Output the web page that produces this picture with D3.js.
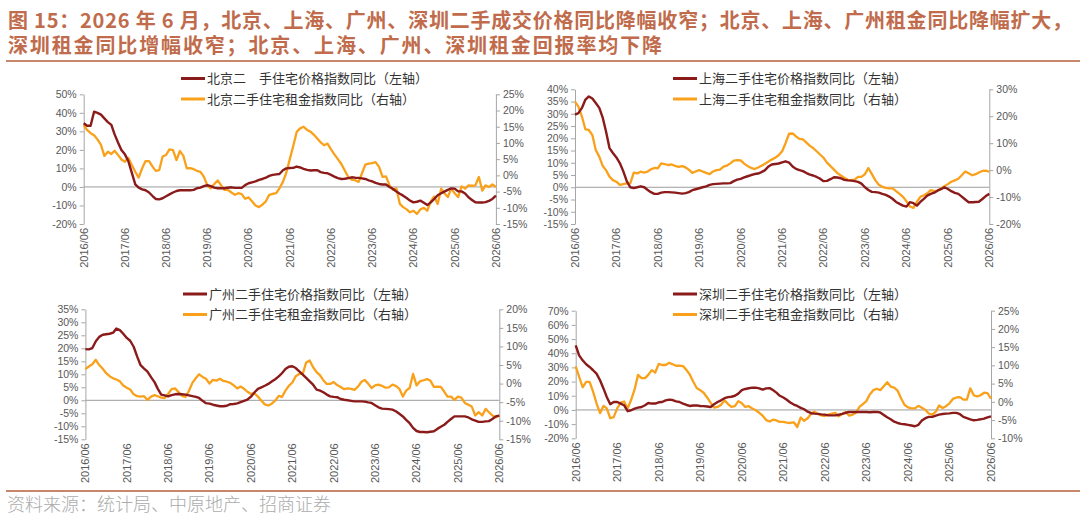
<!DOCTYPE html>
<html>
<head>
<meta charset="utf-8">
<script src="https://cdn.jsdelivr.net/npm/d3@7"></script>
<style>
  body { margin: 0; background: #fff; }
  svg { display: block; }
  .tick text { font-family: "Liberation Sans", Arial, sans-serif; font-size: 10.5px; fill: #595959; }
  .legend text { font-family: "Noto Sans CJK SC", sans-serif; font-size: 13px; fill: #333; }
</style>
</head>
<body>
<svg id="chart" width="1080" height="521"></svg>
<script>
// month index 0 = 2016/06, 120 = 2026/06
const xTickLabels = ["2016/06","2017/06","2018/06","2019/06","2020/06","2021/06","2022/06","2023/06","2024/06","2025/06","2026/06"];

// 北京
const bjPrice = [34.4,33,33,40.6,40,39,37,35,33.5,28.5,24,20,17.6,14,7.7,1.4,-0.4,-1.3,-1.8,-3,-4.9,-6.5,-6.7,-6.1,-5,-4,-3,-2.2,-1.8,-1.8,-1.8,-1.8,-1.6,-0.7,-0.4,0.4,0.9,0.4,-0.4,-0.7,-0.7,-0.7,-0.4,-0.2,-0.5,
  -0.5,-0.5,1,2,2.5,3,3.8,4.3,5,6,6.5,6.8,7,9,10,10.2,10.3,11,10.5,9.8,9.2,8.9,9,9,8,7.6,7.4,6.5,5.6,4.8,4.3,4.4,4.8,5.2,5,4.9,4.6,4.3,3.6,3,2.2,1.6,1.3,1.3,0,-1,-2.5,-3.7,-4.7,-6,-7.4,-8.3,-8,-7.4,-8.5,-9.8,-8.3,-6.5,-4.5,-3.4,-2.5,-1.6,-0.8,-0.9,-2.4,-2.4,-3.5,-5.6,-7,-8.3,-8.4,-8.4,-8.2,-7.5,-6.5,-4.7];
const bjRent = [15.5,14,13,12.4,11.1,9.4,6,7.3,6.6,7.6,6.3,4.9,4.2,5.4,3.2,1.1,-0.7,2.2,4.4,4.4,2.7,1.4,1.6,5.8,6.3,8,7.8,4.7,7.5,6,2.2,2.2,1.9,1.4,1.1,-0.4,-3,-4,-2.7,-1.6,-3,-4.5,-4.5,-5.3,-6,
  -5.5,-5.8,-7.2,-6.8,-8,-9.3,-9.8,-9,-8,-6,-5.7,-5.5,-4,-2,0.8,5,9,13.4,14.5,15,14,13.5,12.5,11.3,10.2,9.3,9.8,8,6.5,5,3.5,1.5,-0.5,-1.3,-1.5,-2,0.5,3.3,3.6,3.8,4.1,2.6,-0.5,-0.3,-3,-4.5,-4,-8.8,-9.8,-10.5,-11.4,-10.9,-11.9,-10.5,-10,-10.9,-8,-6.5,-8.8,-4.1,-5.5,-6.7,-4.1,-5.5,-6.7,-3.4,-4.1,-3.1,-3.2,-3.1,-0.5,-4.7,-3.1,-3.6,-2.8,-3.6];

// 上海
const shPrice = [29.7,30.3,32.4,35.8,37.1,36.2,34.4,32.4,28.3,22.9,16,14,12.2,9.9,6.5,2.4,0,-0.3,0,0.4,0,-1,-2,-2.7,-2.7,
  -2.2,-2,-2,-2.1,-2.2,-2.4,-2.6,-2.4,-2,-1.2,-0.8,-0.4,0,0.4,1,1.3,1.4,1.5,1.6,1.6,1.7,2.5,3.1,3.4,4,4.5,5,5.4,5.6,6.2,7,8.5,9.3,9.5,9.7,10.2,10.6,10.1,8.5,7.5,7,6.6,5.8,5.2,4.8,4.2,3.5,2.5,2.6,3.3,4.1,4,3.7,3,2.8,2.7,2.5,2.2,1.5,0,-1.1,-1.9,-2,-2.2,-2.7,-3.1,-3.8,-4.8,-6,-6.8,-7.5,-7.9,-6.1,-6.5,-7.5,-6,-4.7,-3.4,-2.7,-2.2,-1.4,-0.8,0,-0.7,-1.6,-2.3,-2.7,-3.8,-5,-6.1,-6.1,-6,-5.9,-4.8,-3.6,-2.7];
const shRent = [25.4,23.6,19.9,15.1,14.9,13,7.5,5,1.5,0,-2.4,-3.7,-4.3,-5.5,-5.2,-4.9,-4.9,-0.9,-1.2,-0.6,-0.9,-0.6,0.3,0.8,0.7,
  2.5,2.2,1.9,2.1,1.6,1.2,1.5,1,0.2,-1,-0.5,0,-0.5,-1,-1.5,-0.5,0,0.2,1.3,1.7,2.5,3.5,3.7,3.6,2.4,1.5,0.8,0.4,1,1.6,2.4,3.2,3.9,4.6,5.5,7,10,13.5,13.6,12.5,11.6,11.4,10.2,9,8.2,7,5.8,4.6,2.8,1.5,0.2,-1.1,-2,-2.8,-3.6,-3.7,-3.5,-2.5,-2.5,-1.5,0.8,-1.5,-3.8,-5.4,-6.2,-6.6,-6.8,-6.8,-7.8,-8.8,-9.9,-11.6,-13.5,-14,-11.8,-9.9,-9.4,-8.6,-7.4,-7.8,-7.6,-6.8,-6,-5.2,-4.3,-3.8,-3.2,-1.9,-0.5,-1.2,-1.9,-1.5,-0.9,-0.3,-0.2,-0.6];

// 广州
const gzPrice = [19.7,19.6,20.1,22.7,24.4,25.2,25.4,25.6,26,27.6,27,25.6,24,22.9,20.6,16.8,13.5,12.2,11,8.9,7,4.5,2.2,1.9,1.5,2,2.3,2.4,2.3,2.2,1.9,1.6,1.3,0.9,-0.2,-1.1,-1.3,-1.7,-2,-2.3,-2.3,-2.1,-1.5,-1.4,-1.2,-0.7,-0.2,0.3,1.4,3,4.4,5,5.6,6.3,7.2,8.1,9.2,10.4,12,12.9,13.1,12.4,11.1,9.9,8.6,7.3,6,4.1,3.7,3.1,2.2,1.5,1.3,1.2,0.5,0.2,0,-0.2,-0.4,-0.4,-0.4,-0.5,-0.8,-1,-1.9,-2.7,-3.2,-3.3,-3.4,-3.6,-4.2,-5.2,-6.2,-7.5,-8.8,-10.6,-11.8,-12.2,-12.2,-12.3,-12.1,-11.9,-11,-10.2,-9.4,-8.3,-7.2,-6.2,-6.2,-6.2,-6.2,-6.6,-7.3,-7.8,-8.3,-8.3,-8.1,-8,-7.2,-6.2,-5.9];
const gzRent = [3.9,4.6,5.2,6.4,5,4,2.8,2,1.4,1.1,0.6,-0.5,-1.1,-1.6,-2.9,-3.4,-3.5,-3.4,-4.4,-3.5,-3.1,-3.4,-3.8,-3.9,-2.8,-1.5,-1.3,-2.3,-3.3,-3.6,-2,0.2,1.5,2.5,1.8,1.3,0,1,0.8,1.3,0.7,0.5,0.2,-0.5,-1.3,-0.8,-1.4,-2.2,-2.8,-2.6,-3.5,-4.6,-5.6,-5.9,-5.4,-4.6,-3.3,-3.6,-1.9,-0.6,0.3,2,2.6,2.6,5.7,6.2,4.4,3.1,2.2,0.9,-0.1,-0.1,0.4,-0.4,-0.9,-1.5,-1.3,-1.4,-1.7,-0.8,0.5,1,0,-1.2,-0.5,-0.3,-0.6,-1.1,-1,-0.3,-0.6,-1.4,-3.5,-1.9,-1.2,2.6,-0.5,0.6,0.9,1.2,0.8,-0.9,-0.8,-0.9,-2.2,-3.5,-3.5,-4.4,-3.5,-3.8,-5.2,-5.7,-6.2,-8.6,-7.7,-8.6,-6.8,-7.7,-8.6,-9.1,-8.6];

// 深圳
const szPrice = [45.6,38.5,35,32.2,30.3,28,25.6,20.9,15,9.2,4,5.6,5.6,4.5,3.3,-0.9,-0.2,0.9,1.6,2.1,3.3,4.9,4.5,4.5,5.4,5.6,6.8,7.3,
  7,6,5.6,4.5,3.5,2.8,3.1,3.2,2.8,2.7,2.4,2.1,4,5.6,6.8,8.3,9,9.3,10,11.5,13.9,14.8,15.3,15.7,15.7,15.2,14.3,15.2,15.4,14,12.2,10,8.8,7.2,5.3,3.8,2.8,1.5,0.5,-1.2,-2.3,-2.6,-2.8,-3.1,-3.3,-3.8,-3.8,-3.8,-3.4,-2.8,-2,-1.4,-1.4,-1.4,-1.4,-1.4,-1.5,-1.6,-1.4,-1.4,-1.8,-3.5,-5.2,-6.6,-8.3,-9.2,-9.8,-10.1,-10.5,-11,-11.5,-10.5,-7.5,-5.8,-4.9,-4.9,-4,-3.3,-2.9,-2.6,-2.4,-2.1,-2.1,-3,-4.9,-5.7,-6.6,-7.3,-7,-6.6,-6.1,-5.2,-4.5];
const szRent = [9.7,6.9,4,5.5,5.5,2.8,-0.4,-3.1,-1.1,-1.8,-4.5,-4.2,-1.8,-0.2,0.1,-1.8,0.5,3.4,7.4,6.5,6.5,7.4,8.7,8,10.4,10.1,10.1,10.7,
  10.3,9.9,9.9,9.8,8.7,7.5,5.5,3.8,3.2,2.5,1.2,-0.3,-1.6,-1.4,-0.8,0.4,-0.6,-1.4,-1.2,0.2,-0.4,-1.4,-1.2,-1.8,-2.3,-3,-3.8,-5,-5.4,-4.9,-5.1,-5.5,-5.5,-5.7,-5.8,-5.6,-6.9,-4.3,-5.2,-4.5,-3.2,-2.7,-3.3,-3.7,-3.9,-3.5,-3.2,-3,-4,-3.3,-2.8,-3.8,-3.5,-3,-1.4,-0.6,0.2,2,3.2,3.6,3.2,4.3,5.4,4.2,3.9,3.1,1,-0.8,-1.5,-1.8,-1.8,-1.1,-1.6,-2.2,-3.2,-3.5,-2.7,-1,-1.7,-1.2,-0.4,0.8,1.2,1.3,0.6,0.6,3.7,1.8,1.5,1.8,2.5,2.4,0.9];

// axis ticks (%)
const bjLeftTicks = [-20,-10,0,10,20,30,40,50];
const bjRightTicks = [-15,-10,-5,0,5,10,15,20,25];
const shLeftTicks = [-15,-10,-5,0,5,10,15,20,25,30,35,40];
const shRightTicks = [-20,-10,0,10,20,30];
const gzLeftTicks = [-15,-10,-5,0,5,10,15,20,25,30,35];
const gzRightTicks = [-15,-10,-5,0,5,10,15,20];
const szLeftTicks = [-20,-10,0,10,20,30,40,50,60,70];
const szRightTicks = [-10,-5,0,5,10,15,20,25];

const titleLines = [
  "图 15：2026 年 6 月，北京、上海、广州、深圳二手成交价格同比降幅收窄；北京、上海、广州租金同比降幅扩大，",
  "深圳租金同比增幅收窄；北京、上海、广州、深圳租金回报率均下降"
];
const sourceText = "资料来源：统计局、中原地产、招商证券";

const PRICE_COLOR = "#8B1A1A";
const RENT_COLOR = "#F9A11B";
const ACCENT = "#C06C4C";

const svg = d3.select("#chart");

// title + rules
svg.selectAll("text.title").data(titleLines).enter().append("text")
  .attr("class", "title")
  .attr("x", 8)
  .attr("y", (d, i) => 27.5 + i * 25)
  .attr("font-family", "'Noto Sans CJK SC', sans-serif")
  .attr("font-size", 20)
  .attr("font-weight", "bold")
  .attr("fill", ACCENT)
  .attr("textLength", (d, i) => i === 0 ? 1064 : 654)
  .attr("lengthAdjust", "spacing")
  .text(d => d);

svg.append("line").attr("x1", 6).attr("x2", 1080).attr("y1", 61).attr("y2", 61)
  .attr("stroke", "#C8866A").attr("stroke-width", 2);
svg.append("line").attr("x1", 6).attr("x2", 1080).attr("y1", 491).attr("y2", 491)
  .attr("stroke", "#C8866A").attr("stroke-width", 2);

svg.append("text")
  .attr("x", 7).attr("y", 511)
  .attr("font-family", "'Noto Sans CJK SC', sans-serif")
  .attr("font-size", 18).attr("font-weight", 300)
  .attr("fill", "#ABABAB")
  .text(sourceText);

const dateOf = i => new Date(2016, 5 + i, 1);

function drawPanel(p) {
  const x = d3.scaleTime()
    .domain([dateOf(0), dateOf(120)])
    .range([p.left, p.right]);
  const yL = d3.scaleLinear().domain(d3.extent(p.leftTicks)).range([p.bottom, p.top]);
  const yR = d3.scaleLinear().domain(d3.extent(p.rightTicks)).range([p.bottom, p.top]);

  const g = svg.append("g");

  // zero line
  g.append("line")
    .attr("x1", p.left).attr("x2", p.right)
    .attr("y1", yL(0)).attr("y2", yL(0))
    .attr("stroke", "#9C9C9C").attr("stroke-width", 1);

  const axL = g.append("g").attr("transform", `translate(${p.left},0)`)
    .call(d3.axisLeft(yL).tickValues(p.leftTicks).tickSize(4).tickSizeOuter(0).tickPadding(3).tickFormat(d => d + "%"));
  const axR = g.append("g").attr("transform", `translate(${p.right},0)`)
    .call(d3.axisRight(yR).tickValues(p.rightTicks).tickSize(4).tickSizeOuter(0).tickPadding(3).tickFormat(d => d + "%"));
  [axL, axR].forEach(a => {
    a.select(".domain").attr("stroke", "#A6A6A6");
    a.selectAll(".tick line").attr("stroke", "#A6A6A6");
  });

  // rotated date labels
  g.selectAll("text.xl").data(xTickLabels).enter().append("text")
    .attr("class", "xl")
    .attr("transform", (d, i) => `translate(${x(dateOf(i * 12))},${p.bottom + 4}) rotate(-90)`)
    .attr("dy", "0.35em")
    .attr("text-anchor", "end")
    .attr("font-family", "'Liberation Sans', Arial, sans-serif")
    .attr("font-size", 11)
    .attr("fill", "#595959")
    .text(d => d);

  const lineL = d3.line().x((d, i) => x(dateOf(i))).y(d => yL(d));
  const lineR = d3.line().x((d, i) => x(dateOf(i))).y(d => yR(d));

  g.append("path").attr("d", lineR(p.rent))
    .attr("fill", "none").attr("stroke", RENT_COLOR).attr("stroke-width", 2.3)
    .attr("stroke-linejoin", "round");
  g.append("path").attr("d", lineL(p.price))
    .attr("fill", "none").attr("stroke", PRICE_COLOR).attr("stroke-width", 2.4)
    .attr("stroke-linejoin", "round");

  // legend
  const lg = g.append("g").attr("class", "legend");
  const items = [
    { label: p.priceLabel, color: PRICE_COLOR },
    { label: p.rentLabel, color: RENT_COLOR }
  ];
  items.forEach((it, i) => {
    const y = p.legendY + i * 20.5;
    lg.append("line").attr("x1", p.legendX).attr("x2", p.legendX + 24)
      .attr("y1", y).attr("y2", y)
      .attr("stroke", it.color).attr("stroke-width", 3);
    lg.append("text").attr("x", p.legendX + 26).attr("y", y + 4.6).text(it.label);
  });
}

drawPanel({
  left: 83.7, right: 495.9, top: 94.3, bottom: 224,
  leftTicks: bjLeftTicks, rightTicks: bjRightTicks,
  price: bjPrice, rent: bjRent,
  priceLabel: "北京二　手住宅价格指数同比（左轴）", rentLabel: "北京二手住宅租金指数同比（右轴）",
  legendX: 181, legendY: 78.5
});
drawPanel({
  left: 575, right: 989.3, top: 89.3, bottom: 224,
  leftTicks: shLeftTicks, rightTicks: shRightTicks,
  price: shPrice, rent: shRent,
  priceLabel: "上海二手住宅价格指数同比（左轴）", rentLabel: "上海二手住宅租金指数同比（右轴）",
  legendX: 673, legendY: 78.5
});
drawPanel({
  left: 85.4, right: 499.3, top: 309.3, bottom: 439.3,
  leftTicks: gzLeftTicks, rightTicks: gzRightTicks,
  price: gzPrice, rent: gzRent,
  priceLabel: "广州二手住宅价格指数同比（左轴）", rentLabel: "广州二手住宅租金指数同比（右轴）",
  legendX: 183, legendY: 294
});
drawPanel({
  left: 575.7, right: 991, top: 310.7, bottom: 438.3,
  leftTicks: szLeftTicks, rightTicks: szRightTicks,
  price: szPrice, rent: szRent,
  priceLabel: "深圳二手住宅价格指数同比（左轴）", rentLabel: "深圳二手住宅租金指数同比（右轴）",
  legendX: 673, legendY: 294
});
</script>
</body>
</html>
